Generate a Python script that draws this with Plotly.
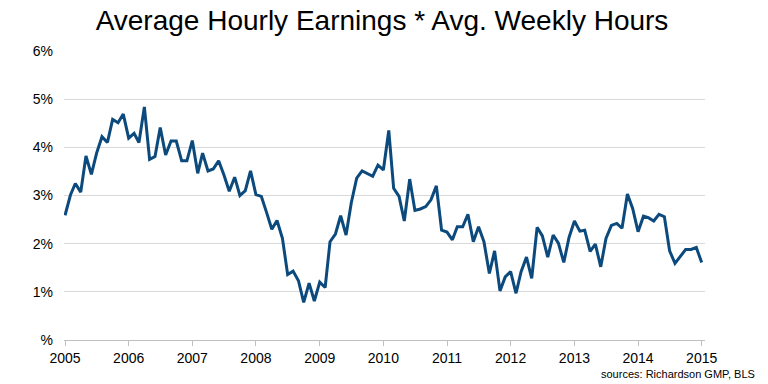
import plotly.graph_objects as go
import pandas as pd

values = [
    2.59, 3.01, 3.25, 3.07, 3.82, 3.44, 3.88, 4.22, 4.10, 4.58, 4.51, 4.69,
    4.19, 4.29, 4.10, 4.84, 3.75, 3.81, 4.41, 3.84, 4.13, 4.13, 3.72, 3.72,
    4.14, 3.46, 3.88, 3.51, 3.55, 3.72, 3.43, 3.09, 3.38, 3.00, 3.10, 3.51,
    3.02, 2.98, 2.66, 2.30, 2.48, 2.11, 1.36, 1.43, 1.23, 0.78, 1.18, 0.81,
    1.20, 1.09, 2.04, 2.20, 2.58, 2.18, 2.85, 3.36, 3.51, 3.46, 3.40, 3.63,
    3.53, 4.35, 3.15, 2.98, 2.47, 3.34, 2.69, 2.72, 2.77, 2.91, 3.20, 2.28,
    2.24, 2.08, 2.35, 2.35, 2.61, 2.04, 2.35, 2.04, 1.38, 1.85, 1.02, 1.31,
    1.42, 0.97, 1.42, 1.72, 1.28, 2.34, 2.16, 1.72, 2.18, 2.01, 1.61, 2.13,
    2.47, 2.26, 2.28, 1.84, 1.99, 1.52, 2.11, 2.38, 2.42, 2.32, 3.03, 2.73,
    2.25, 2.57, 2.54, 2.47, 2.61, 2.56, 1.85, 1.59, 1.74, 1.88, 1.88, 1.92,
    1.61,
]
dates = pd.date_range("2005-01-01", periods=len(values), freq="MS")

year_ticks = [f"{y}-01-01" for y in range(2005, 2016)]
year_labels = [str(y) for y in range(2005, 2016)]
y_ticks = [0, 1, 2, 3, 4, 5, 6]
y_labels = ["%", "1%", "2%", "3%", "4%", "5%", "6%"]

fig = go.Figure()
fig.add_trace(go.Scatter(
    x=dates, y=values, mode="lines",
    line=dict(color="#0C4A7D", width=3),
    hoverinfo="skip",
))

fig.update_layout(
    width=768, height=384,
    margin=dict(l=64, r=63, t=51, b=44),
    paper_bgcolor="white", plot_bgcolor="white",
    showlegend=False,
    hovermode=False,
    font=dict(family="Liberation Sans, Arial, sans-serif", color="#000000", size=14),
    title=dict(
        text="Average Hourly Earnings * Avg. Weekly Hours",
        x=382 / 768, xanchor="center",
        y=1 - 20 / 384, yanchor="middle",
        font=dict(size=28, color="#000000"),
    ),
    xaxis=dict(
        type="date",
        range=["2004-12-26", "2015-01-20"],
        tickvals=year_ticks, ticktext=year_labels,
        showgrid=False, showline=True, linecolor="#BFBFBF", linewidth=1,
        ticks="outside", ticklen=5, tickcolor="#BFBFBF",
        tickfont=dict(size=14),
        zeroline=False,
    ),
    yaxis=dict(
        range=[0, 6],
        tickvals=y_ticks, ticktext=y_labels,
        showgrid=True, gridcolor="#D9D9D9", gridwidth=1,
        showline=False, zeroline=False,
        ticks="", ticklabelstandoff=10,
        tickfont=dict(size=14),
    ),
    annotations=[dict(
        text="sources: Richardson GMP, BLS",
        xref="paper", yref="paper", x=(757 - 64) / 641, y=(340 - 374) / 289,
        xanchor="right", yanchor="middle", showarrow=False,
        font=dict(size=11, color="#000000"),
    )],
)

fig.write_html(
    "out.html",
    config={"displayModeBar": False, "staticPlot": True},
    post_script="document.body.style.margin='0px';",
)
